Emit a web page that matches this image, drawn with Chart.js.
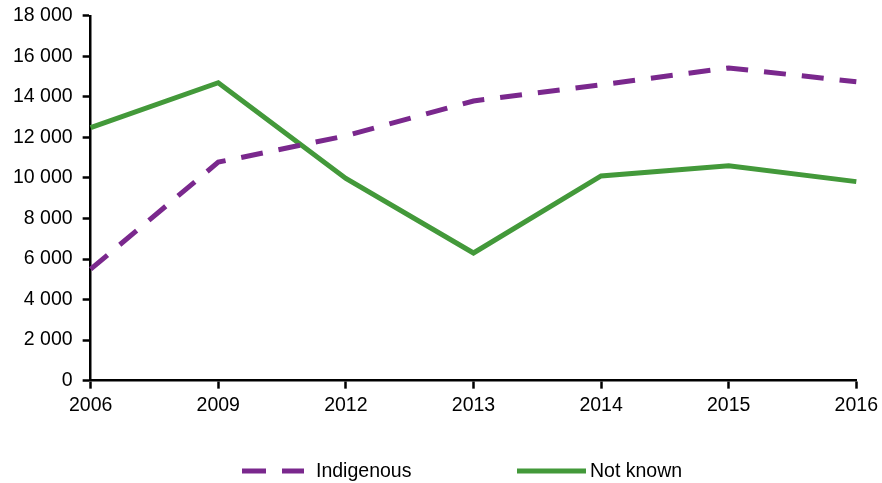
<!DOCTYPE html>
<html>
<head>
<meta charset="utf-8">
<script src="https://cdn.jsdelivr.net/npm/chart.js@4.4.1/dist/chart.umd.min.js"></script>
<style>
  html, body { margin: 0; padding: 0; background: #fff; }
  #wrap { width: 882px; height: 483px; position: relative; }
</style>
</head>
<body>
<div id="wrap"><canvas id="chart"></canvas></div>
<script>
const years = ["2006", "2009", "2012", "2013", "2014", "2015", "2016"];
const indigenous = [5500, 10780, 12080, 13800, 14600, 15430, 14750];
const notKnown = [12480, 14700, 9980, 6300, 10100, 10600, 9820];
const yTicks = [0, 2000, 4000, 6000, 8000, 10000, 12000, 14000, 16000, 18000];

const purple = "#7a288d";
const green = "#43993a";
const fontFamily = "'Liberation Sans', Arial, sans-serif";

Chart.defaults.font.family = fontFamily;
Chart.defaults.font.size = 19.5;
Chart.defaults.color = "#000";

const fmt = (v) => String(v).replace(/\B(?=(\d{3})+(?!\d))/g, " ");

// legend drawn by hand so the samples and gaps sit where the original has them
const legendPlugin = {
  id: "manualLegend",
  afterDraw(chart) {
    const ctx = chart.ctx;
    const y = 471;
    const items = [
      { ds: chart.data.datasets[0], x0: 242, x1: 304, tx: 316 },
      { ds: chart.data.datasets[1], x0: 517, x1: 586, tx: 590 },
    ];
    ctx.save();
    items.forEach((it) => {
      ctx.beginPath();
      ctx.strokeStyle = it.ds.borderColor;
      ctx.lineWidth = 5;
      ctx.setLineDash(it.ds.borderDash && it.ds.borderDash.length ? [24, 16] : []);
      ctx.moveTo(it.x0, y);
      ctx.lineTo(it.x1, y);
      ctx.stroke();
      ctx.setLineDash([]);
      ctx.fillStyle = "#000";
      ctx.font = "19.5px " + fontFamily;
      ctx.textBaseline = "middle";
      ctx.textAlign = "left";
      ctx.fillText(it.ds.label, it.tx, y + 1);
    });
    ctx.restore();
  },
};

new Chart(document.getElementById("chart"), {
  type: "line",
  data: {
    labels: years,
    datasets: [
      {
        label: "Indigenous",
        data: indigenous,
        borderColor: purple,
        backgroundColor: purple,
        borderWidth: 5,
        borderDash: [22, 16],
        pointRadius: 0,
        tension: 0,
      },
      {
        label: "Not known",
        data: notKnown,
        borderColor: green,
        backgroundColor: green,
        borderWidth: 5,
        pointRadius: 0,
        tension: 0,
      },
    ],
  },
  options: {
    responsive: true,
    maintainAspectRatio: false,
    animation: false,
    layout: { padding: { left: 3, right: 20, top: 10, bottom: 61 } },
    plugins: {
      legend: { display: false },
      tooltip: { enabled: false },
    },
    scales: {
      x: {
        offset: false,
        grid: {
          drawOnChartArea: false,
          drawTicks: true,
          tickLength: 8,
          tickWidth: 2.5,
          tickColor: "#000",
        },
        border: { color: "#000", width: 2.5 },
        ticks: { padding: 4, maxRotation: 0, autoSkip: false, font: { lineHeight: 1.3 } },
      },
      y: {
        min: 0,
        max: 18000,
        afterBuildTicks: (axis) => {
          axis.ticks = yTicks.map((v) => ({ value: v }));
        },
        grid: {
          drawOnChartArea: false,
          drawTicks: true,
          tickLength: 8,
          tickWidth: 2.5,
          tickColor: "#000",
        },
        border: { color: "#000", width: 2.5 },
        ticks: { padding: 10, font: { lineHeight: 0.6 }, callback: (v) => fmt(v) },
      },
    },
  },
  plugins: [legendPlugin],
});
</script>
</body>
</html>
